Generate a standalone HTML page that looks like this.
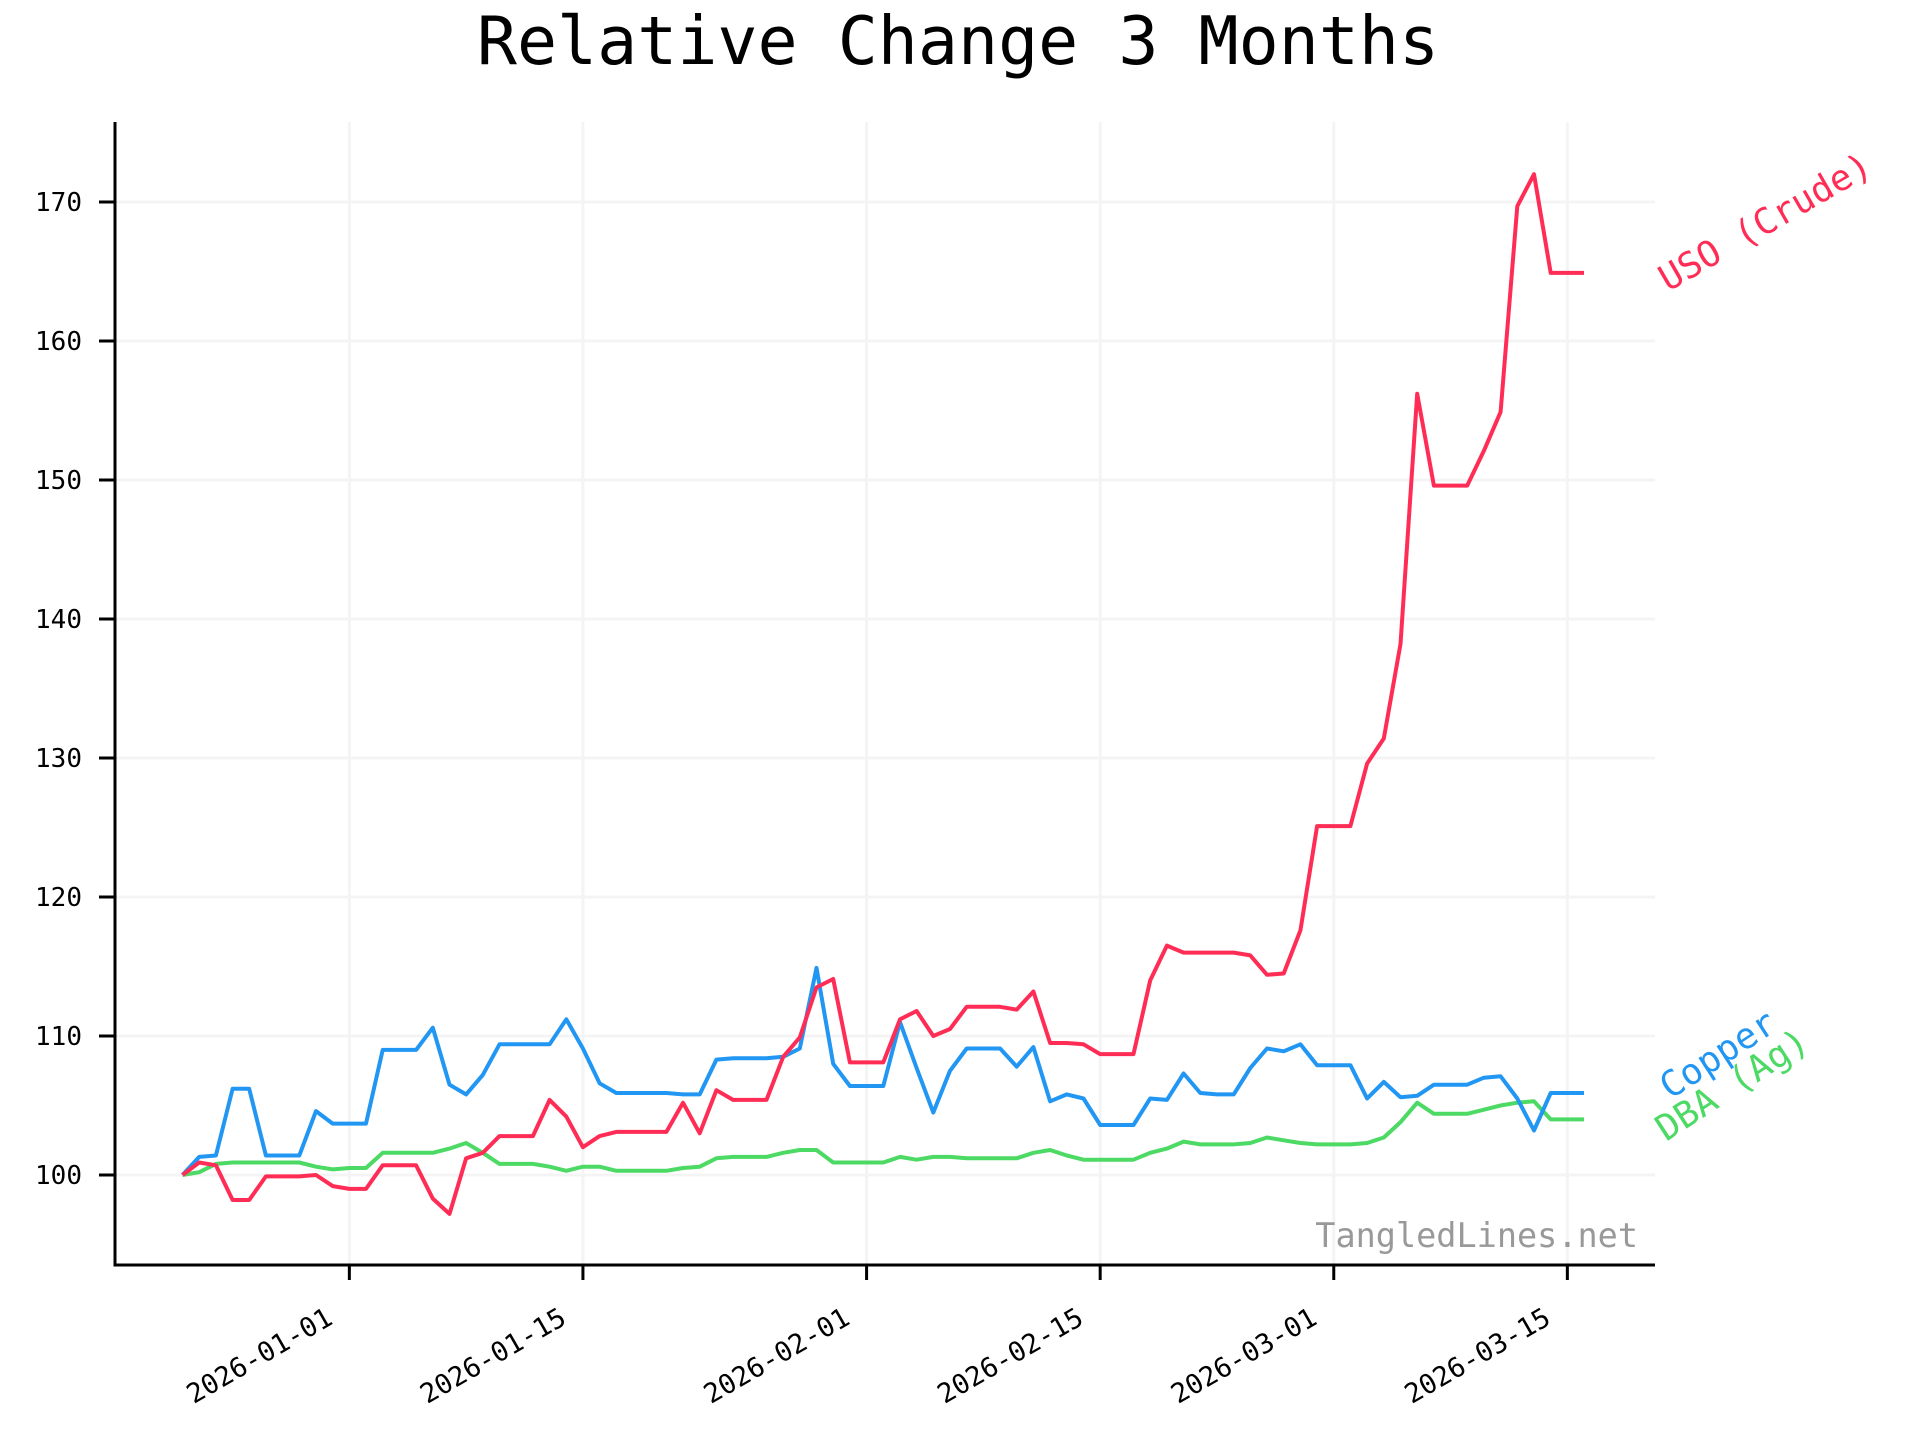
<!DOCTYPE html>
<html>
<head>
<meta charset="utf-8">
<style>
html,body{margin:0;padding:0;background:#fff;}
svg{display:block;}
text{font-family:"DejaVu Sans Mono","Liberation Mono",monospace;}
</style>
</head>
<body>
<svg id="chart" width="1920" height="1440" viewBox="0 0 1920 1440" xmlns="http://www.w3.org/2000/svg">
  <rect width="1920" height="1440" fill="#ffffff"/>
  <text x="958" y="64" font-size="66.6" text-anchor="middle" fill="#000">Relative Change 3 Months</text>
  <g id="grid"></g>
  <g id="series"></g>
  <g id="axes"></g>
  <text x="1638" y="1247" font-size="33.5" text-anchor="end" fill="#999999">TangledLines.net</text>
  <text transform="translate(1668,292) rotate(-30)" font-size="36" fill="#ff2d55">USO (Crude)</text>
  <text transform="translate(1670,1100) rotate(-33)" font-size="36" fill="#2196f3">Copper</text>
  <text transform="translate(1666,1142) rotate(-33)" font-size="36" fill="#4cd964">DBA (Ag)</text>
</svg>
<script>
const startDate = "2025-12-22";
const copper = [100,101.3,101.4,106.2,106.2,101.4,101.4,101.4,104.6,103.7,
103.7,103.7,109.0,109.0,109.0,110.6,106.5,105.8,107.2,109.4,
109.4,109.4,109.4,111.2,109.1,106.6,105.9,105.9,105.9,105.9,
105.8,105.8,108.3,108.4,108.4,108.4,108.5,109.1,114.9,108.0,
106.4,106.4,106.4,111.0,107.7,104.5,107.5,109.1,109.1,109.1,
107.8,109.2,105.3,105.8,105.5,103.6,103.6,103.6,105.5,105.4,
107.3,105.9,105.8,105.8,107.7,109.1,108.9,109.4,107.9,107.9,
107.9,105.5,106.7,105.6,105.7,106.5,106.5,106.5,107.0,107.1,
105.5,103.2,105.9,105.9,105.9];
const dba = [100,100.2,100.8,100.9,100.9,100.9,100.9,100.9,100.6,100.4,
100.5,100.5,101.6,101.6,101.6,101.6,101.9,102.3,101.6,100.8,
100.8,100.8,100.6,100.3,100.6,100.6,100.3,100.3,100.3,100.3,
100.5,100.6,101.2,101.3,101.3,101.3,101.6,101.8,101.8,100.9,
100.9,100.9,100.9,101.3,101.1,101.3,101.3,101.2,101.2,101.2,
101.2,101.6,101.8,101.4,101.1,101.1,101.1,101.1,101.6,101.9,
102.4,102.2,102.2,102.2,102.3,102.7,102.5,102.3,102.2,102.2,
102.2,102.3,102.7,103.8,105.2,104.4,104.4,104.4,104.7,105.0,
105.2,105.3,104.0,104.0,104.0];
const uso = [100,100.9,100.7,98.2,98.2,99.9,99.9,99.9,100.0,99.2,
99.0,99.0,100.7,100.7,100.7,98.3,97.2,101.2,101.6,102.8,
102.8,102.8,105.4,104.2,102.0,102.8,103.1,103.1,103.1,103.1,
105.2,103.0,106.1,105.4,105.4,105.4,108.5,109.9,113.5,114.1,
108.1,108.1,108.1,111.2,111.8,110.0,110.5,112.1,112.1,112.1,
111.9,113.2,109.5,109.5,109.4,108.7,108.7,108.7,114.0,116.5,
116.0,116.0,116.0,116.0,115.8,114.4,114.5,117.6,125.1,125.1,
125.1,129.6,131.4,138.2,156.2,149.6,149.6,149.6,152.1,154.9,
169.7,172.0,164.9,164.9,164.9];
const xTickLabels = ["2026-01-01","2026-01-15","2026-02-01","2026-02-15","2026-03-01","2026-03-15"];
const yTickValues = [100,110,120,130,140,150,160,170];

const NS = "http://www.w3.org/2000/svg";
const L = 115, R = 1655, T = 122, B = 1265;
const X0 = 182.5, DAY = 16.685;
const Y100 = 1175, PER = 13.9;
const t0 = Date.parse(startDate + "T00:00:00Z");
function dayOf(s){ return (Date.parse(s + "T00:00:00Z") - t0) / 86400000; }
function xs(d){ return X0 + d * DAY; }
function ys(v){ return Y100 - (v - 100) * PER; }
function mk(tag, attrs, parent){
  const e = document.createElementNS(NS, tag);
  for (const k in attrs) e.setAttribute(k, attrs[k]);
  parent.appendChild(e);
  return e;
}
const grid = document.getElementById("grid");
const axes = document.getElementById("axes");
const series = document.getElementById("series");

yTickValues.forEach(v => {
  const y = ys(v);
  const g = mk("line", {x1:L, x2:R, y1:y, y2:y, stroke:"#f4f4f4", "stroke-width":3}, grid);
  
  
  const t = mk("line", {x1:99, x2:L, y1:y, y2:y, stroke:"#000", "stroke-width":3}, axes);
  
  
  const lb = mk("text", {x:82, y:y+9, "font-size":26, "text-anchor":"end", fill:"#000"}, axes);
  lb.textContent = v;
  
  
});
xTickLabels.forEach(s => {
  const x = xs(dayOf(s));
  const g = mk("line", {x1:x, x2:x, y1:T, y2:B, stroke:"#f4f4f4", "stroke-width":3}, grid);
  
  
  const t = mk("line", {x1:x, x2:x, y1:B, y2:B+15, stroke:"#000", "stroke-width":3}, axes);
  
  
  const lb = mk("text", {transform:"translate(" + (x-15) + "," + (B+58) + ") rotate(-30)", "font-size":27, "text-anchor":"end", fill:"#000"}, axes);
  lb.textContent = s;
  
  
});
const ax1 = mk("line", {x1:L, x2:L, y1:T, y2:B+1.5, stroke:"#000", "stroke-width":3}, axes);


const ax2 = mk("line", {x1:L-1.5, x2:R, y1:B, y2:B, stroke:"#000", "stroke-width":3}, axes);



function drawLine(vals, color, name){
  const pts = vals.map((v,i) => xs(i).toFixed(1) + "," + ys(v).toFixed(1)).join(" ");
  const p = mk("polyline", {points:pts, fill:"none", stroke:color, "stroke-width":4, "stroke-linejoin":"round"}, series);
  
  
}
drawLine(dba, "#4cd964", "line-dba");
drawLine(copper, "#2196f3", "line-copper");
drawLine(uso, "#ff2d55", "line-uso");
</script>
</body>
</html>
